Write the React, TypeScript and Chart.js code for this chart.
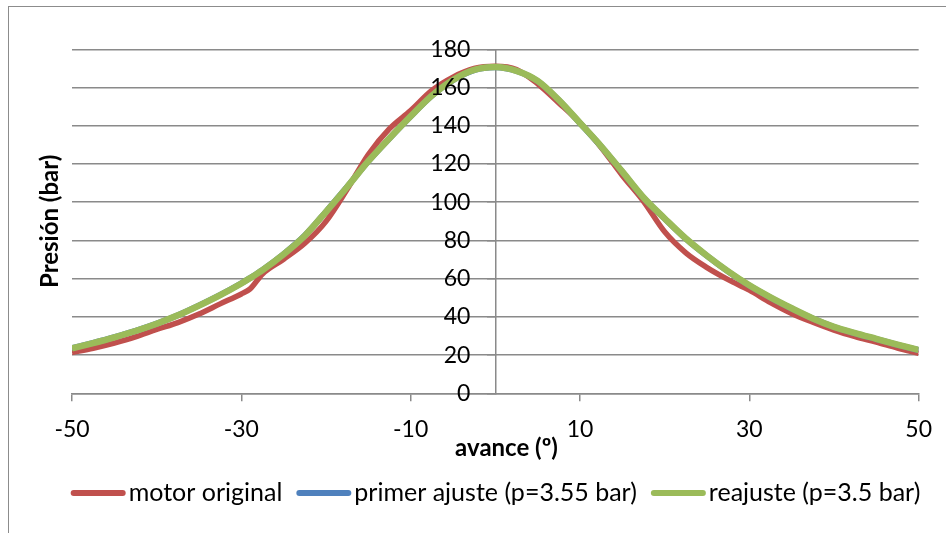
import { useEffect, useRef } from 'react';
import { Chart, registerables } from 'chart.js';

Chart.register(...registerables);

// ---- data ----
const avance = [
  -50, -47.5, -45, -42.5, -40, -37.5, -35, -32.5, -30, -29, -27.5, -25, -22.5, -20, -17.5, -15, -12.5, -10, -7.5, -5, -2.5,
  0, 2.5, 5, 7.5, 10, 12.5, 15, 17.5, 20, 22.5, 25, 27.5, 30, 32.5, 35, 37.5, 40, 42.5, 45, 47.5, 50,
];
const motorOriginal = [
  21.3, 23.6, 26.3, 29.5, 33.4, 37.0, 41.5, 46.8, 52.0, 54.5, 62.5, 70.2, 78.5, 90.0, 106.8, 125.0, 138.5, 148.0, 158.5, 165.5, 170.0,
  171.2, 169.5, 162.0, 152.0, 141.5, 128.7, 114.0, 100.5, 84.5, 73.5, 65.8, 59.5, 54.0, 47.5, 41.8, 37.2, 33.1, 29.7, 26.8, 23.7, 20.9,
];
const primerAjuste = [
  23.6, 26.4, 29.4, 32.7, 36.5, 40.9, 46.0, 51.5, 57.6, 60.3, 64.6, 72.9, 82.6, 95.1, 108.1, 121.4, 133.4, 144.9, 155.7, 163.9, 169.2,
  170.7, 168.7, 163.4, 153.4, 141.4, 129.2, 115.9, 102.4, 91.4, 80.9, 71.9, 63.7, 56.4, 50.1, 44.4, 39.1, 34.7, 31.4, 28.4, 25.4, 22.6,
];
const reajuste = [
  23.5, 26.3, 29.3, 32.6, 36.4, 40.8, 45.9, 51.4, 57.5, 60.2, 64.5, 72.8, 82.5, 95.0, 108.0, 121.5, 133.5, 145.0, 155.8, 164.0, 169.3,
  170.8, 168.8, 163.5, 153.5, 141.5, 129.3, 116.0, 102.5, 91.5, 81.0, 72.0, 63.8, 56.5, 50.2, 44.5, 39.2, 34.8, 31.5, 28.5, 25.5, 22.7,
];
const seriesNames = ['motor original', 'primer ajuste (p=3.55 bar)', 'reajuste (p=3.5 bar)'];
const xTicks = [-50, -30, -10, 10, 30, 50];
const xRange = [-50, 50];
const yRange = [0, 180];
const yStep = 20;
const xTitle = 'avance (º)';
const yTitle = 'Presión (bar)';

const FONT = 'Lato, "Open Sans", sans-serif';
const GRID = '#8a8a8a';

const framePlugin = {
  id: 'frame',
  beforeDraw(chart: any) {
    const ctx = chart.ctx;
    ctx.save();
    ctx.strokeStyle = '#8c8c8c';
    ctx.lineWidth = 1;
    ctx.strokeRect(8.5, 6.5, 1200, 1200);
    ctx.restore();
    // move y tick labels to the left of the centred axis
    const ys = chart.scales.y;
    const xs = chart.scales.x;
    const axisX = xs.getPixelForValue(0);
    ys.getLabelItems().forEach((it: any) => {
      it.options.translation[0] = axisX - 25;
      it.options.textAlign = 'right';
    });
  },
};

const textPlugin = {
  id: 'texts',
  afterDraw(chart: any) {
    const ctx = chart.ctx;
    const area = chart.chartArea;
    ctx.save();
    ctx.fillStyle = '#000';
    ctx.font = `bold 24px ${FONT}`;
    ctx.textAlign = 'center';
    ctx.textBaseline = 'middle';
    ctx.fillText(xTitle, 506.5, 448);
    ctx.save();
    ctx.translate(50, (area.top + area.bottom) / 2);
    ctx.rotate(-Math.PI / 2);
    ctx.fillText(yTitle, 0, 0);
    ctx.restore();

    // legend
    ctx.font = `25px ${FONT}`;
    const LINE = 55, GAP = 3, SEP = 14;
    const items = chart.data.datasets.map((ds: any) => ({
      label: ds.label,
      color: ds.borderColor,
      w: ctx.measureText(ds.label).width,
    }));
    const total = items.reduce((s: number, it: any) => s + LINE + GAP + it.w, 0) + SEP * (items.length - 1);
    let x = 495.5 - total / 2;
    const y = 493;
    ctx.textAlign = 'left';
    items.forEach((it: any) => {
      ctx.beginPath();
      ctx.strokeStyle = it.color;
      ctx.lineWidth = 6;
      ctx.lineCap = 'round';
      ctx.moveTo(x + 3, y);
      ctx.lineTo(x + LINE - 3, y);
      ctx.stroke();
      ctx.fillText(it.label, x + LINE + GAP, y);
      x += LINE + GAP + it.w + SEP;
    });
    ctx.restore();
  },
};

export default function App() {
  const ref = useRef<HTMLCanvasElement | null>(null);
  useEffect(() => {
    if (!ref.current) return;
    const mk = (vals: number[]) => avance.map((x, i) => ({ x, y: vals[i] }));
    const chart = new Chart(ref.current, {
      type: 'line',
      data: {
        datasets: [
          { label: seriesNames[0], data: mk(motorOriginal), borderColor: '#C0504D', backgroundColor: '#C0504D', borderWidth: 5.5, pointRadius: 0, cubicInterpolationMode: 'monotone', order: 3 },
          { label: seriesNames[1], data: mk(primerAjuste), borderColor: '#4F81BD', backgroundColor: '#4F81BD', borderWidth: 6, pointRadius: 0, cubicInterpolationMode: 'monotone', order: 2 },
          { label: seriesNames[2], data: mk(reajuste), borderColor: '#9BBB59', backgroundColor: '#9BBB59', borderWidth: 6.5, pointRadius: 0, cubicInterpolationMode: 'monotone', order: 1 },
        ],
      },
      options: {
        animation: false,
        responsive: true,
        maintainAspectRatio: false,
        layout: { padding: { left: 72, right: 25.3, top: 49.4, bottom: 89.7 } },
        scales: {
          x: {
            type: 'linear',
            position: 'bottom',
            min: xRange[0],
            max: xRange[1],
            afterBuildTicks: (s: any) => {
              s.ticks = xTicks.map((v) => ({ value: v }));
            },
            afterFit: (s: any) => {
              s.height = 50;
            },
            grid: { drawOnChartArea: false, drawTicks: true, tickLength: 8, color: GRID, lineWidth: 1.5 },
            border: { display: true, color: GRID, width: 1.5 },
            ticks: { font: { family: FONT, size: 23 }, color: '#000', padding: 14, maxRotation: 0, autoSkip: false },
          },
          y: {
            type: 'linear',
            position: { x: 0 } as any,
            min: yRange[0],
            max: yRange[1],
            ticks: { stepSize: yStep, font: { family: FONT, size: 23 }, color: '#000', z: 1 },
            grid: { color: GRID, lineWidth: 1.5, tickLength: 8 },
            border: { display: true, color: GRID, width: 1.5 },
          },
        },
        plugins: { legend: { display: false }, tooltip: { enabled: false } },
      },
      plugins: [framePlugin, textPlugin],
    } as any);
    return () => chart.destroy();
  }, []);
  return (
    <div style={{ position: 'absolute', left: 0, top: 0, width: 946, height: 533 }}>
      <canvas ref={ref} />
    </div>
  );
}
